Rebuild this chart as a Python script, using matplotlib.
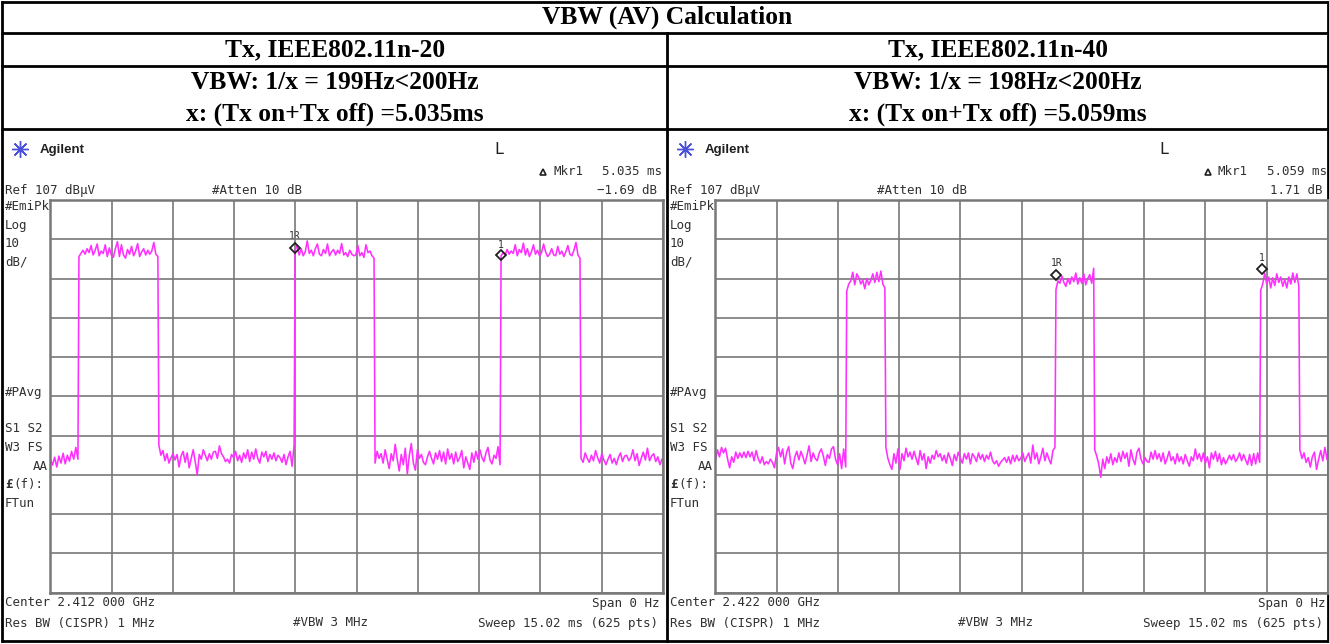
#------------------------------------------------------------------------
# VBW (AV) CALCULATION - TWO SPECTRUM ANALYZER SCREENS IN A TABLE
#------------------------------------------------------------------------
import numpy as np
import matplotlib
matplotlib.use('Agg')
import matplotlib.pyplot as plt

#------------------------------------------------------------------------
# TEXTS
title = 'VBW (AV) Calculation'
modes = ['Tx, IEEE802.11n-20', 'Tx, IEEE802.11n-40']
vbw_lines = ['VBW: 1/x = 199Hz<200Hz', 'VBW: 1/x = 198Hz<200Hz']
x_lines = ['x: (Tx on+Tx off) =5.035ms', 'x: (Tx on+Tx off) =5.059ms']
mkr_time = ['5.035 ms', '5.059 ms']
mkr_delta = ['\u22121.69 dB', '1.71 dB']
center_freq = ['Center 2.412 000 GHz', 'Center 2.422 000 GHz']

#------------------------------------------------------------------------
# TRACES: dBuV, one list per burst on / burst off stretch of the sweep
left_edges = [0., 0.70, 2.66, 6.00, 7.96, 11.05, 13.01, 15.02]
left_trace = [
 [41.0,39.5,41.5,39.0,41.8,40.0,42.5,39.8,42.0,40.5,43.0,41.0,44.0,41.0],
 [92.6,93.4,94.2,93.2,94.6,93.6,95.4,93.0,94.2,95.8,92.8,94.0,93.4,95.6,92.6,94.8,93.0,92.4,94.6,96.4,
  92.6,95.6,93.0,92.2,94.4,93.2,95.2,92.8,94.0,95.9,92.6,93.8,94.6,93.0,94.2,93.2,94.0,96.2,93.2,92.6],
 [44.5,42.0,43.2,40.6,42.4,40.0,41.4,42.4,40.8,42.2,39.0,41.8,43.0,40.2,42.6,38.8,41.2,43.4,40.4,37.0,
  42.2,41.0,43.4,42.0,40.6,42.4,41.0,42.8,43.0,41.2,44.4,42.4,41.6,40.4,41.0,40.0,42.2,41.4,43.0,40.6,
  42.0,40.2,42.6,41.2,43.4,40.4,42.8,41.0,43.6,41.2,40.0,42.8,41.6,43.0,40.4,42.2,41.0,42.6,40.6,42.0,
  41.4,40.2,42.2,39.6,41.6,43.0,39.2,44.6],
 [94.2,95.4,93.0,94.6,92.8,93.8,96.6,93.4,94.2,92.8,94.6,95.8,93.2,92.8,94.4,93.4,95.8,92.8,93.8,94.4,
  93.0,94.2,93.4,95.9,93.0,93.6,92.6,94.2,93.2,92.8,93.0,95.4,92.8,93.6,92.4,95.6,93.6,94.0,92.8,92.2],
 [40.0,43.0,41.2,42.4,40.0,43.4,41.0,38.6,42.4,40.6,44.8,41.0,38.0,42.2,39.6,43.8,37.2,42.0,45.0,40.0,
  38.2,43.4,41.2,42.2,40.2,39.6,41.6,43.0,41.2,39.8,42.6,41.0,43.2,40.4,42.8,39.8,43.6,41.0,42.4,39.8,
  42.8,40.4,41.4,43.2,38.8,41.6,40.0,38.4,42.6,40.2,43.0,41.0,43.4,41.4,40.4,42.6,44.0,40.8,39.8,42.0,
  41.2,44.2,39.6],
 [92.8,93.6,93.0,94.4,93.2,94.0,93.4,95.6,92.8,94.4,93.6,96.0,93.0,94.6,92.6,93.8,95.6,93.2,94.2,92.8,
  93.6,95.8,93.8,92.6,93.2,94.6,93.0,92.8,95.2,93.2,94.0,92.6,93.8,95.4,93.2,92.8,94.2,96.2,93.0,92.2],
 [41.2,40.2,42.6,41.2,40.2,42.0,40.6,43.2,41.4,40.0,42.4,40.8,39.6,41.0,42.2,40.0,41.2,39.6,41.4,42.6,
  40.4,41.8,42.0,40.6,41.4,43.4,40.6,42.4,39.4,41.2,42.8,40.8,43.8,40.6,41.8,42.4,40.4,41.6,39.6,41.0],
]
right_edges = [0., 3.22, 4.18, 8.35, 9.30, 13.37, 14.33, 15.02]
right_trace = [
 [40.6,43.4,41.6,44.0,42.6,43.8,41.0,38.8,41.6,40.2,42.8,41.2,42.6,41.4,42.8,41.4,43.0,41.6,42.8,40.6,
  43.2,41.2,40.0,41.6,39.6,40.4,39.8,41.0,40.2,38.8,42.4,44.0,41.6,43.6,39.8,42.8,44.2,40.0,38.6,41.6,
  43.0,40.8,43.0,41.6,39.8,42.0,44.4,40.4,42.6,41.2,40.6,42.6,43.6,41.8,39.4,42.2,41.2,43.6,44.2,41.0,
  39.6,42.4,38.6,43.6,39.0],
 [83.8,85.6,86.4,88.6,85.4,88.2,87.2,85.6,86.6,84.4,87.0,85.4,86.6,88.2,86.0,88.6,86.2,88.9,85.6,84.6],
 [44.0,41.2,39.6,38.4,42.4,40.0,43.6,38.4,42.4,40.6,43.8,41.6,42.8,41.0,43.0,41.2,39.6,43.2,40.8,42.4,
  38.6,41.6,40.0,42.0,41.0,43.2,41.6,42.4,40.6,42.0,40.0,42.6,41.2,39.4,42.2,40.6,42.8,41.2,40.0,42.4,
  41.0,42.6,39.8,42.4,41.6,40.4,42.6,41.0,42.2,40.4,42.0,41.0,42.8,40.6,39.8,40.6,39.2,40.2,40.8,41.4,
  40.2,41.6,39.8,42.0,40.4,42.0,40.6,41.2,42.6,40.4,41.6,42.6,40.0,44.6,41.0,42.6,39.8,41.6,43.8,40.6,
  42.6,41.0,39.8,43.2,44.0],
 [84.2,86.4,85.8,87.6,86.0,85.0,87.0,85.6,87.4,86.2,88.4,85.6,87.2,85.8,88.2,85.4,87.0,88.0,85.8,89.6],
 [43.4,41.8,39.8,36.4,41.0,38.6,41.6,40.0,42.4,39.6,41.4,40.2,42.6,40.4,43.0,41.2,42.6,39.2,43.4,41.0,
  39.6,42.8,43.8,41.0,39.8,41.4,40.4,40.2,42.8,41.0,43.2,41.0,42.4,40.4,42.6,39.8,41.2,43.0,40.6,41.6,
  39.8,42.4,40.4,41.6,39.8,42.2,40.6,39.2,41.6,40.6,43.6,41.0,42.4,40.4,42.6,40.0,41.6,38.8,42.6,41.0,
  43.0,40.4,42.4,39.6,41.4,39.8,40.8,42.0,40.8,42.2,40.4,41.2,42.6,40.6,42.2,40.8,39.6,42.2,39.4,42.4,
  39.8,42.6,40.2],
 [84.0,85.6,88.4,85.6,87.4,84.6,87.2,85.2,88.2,86.0,87.4,85.0,86.8,84.6,87.4,85.6,88.4,86.0,88.2,85.0],
 [43.4,41.2,42.6,40.2,41.4,39.0,41.6,42.8,38.4,41.0,43.2,40.6,44.0,41.0],
]
# position (ms) and level (dBuV) of the markers
left_marks = {'t': [6.00, 11.04], 'db': [94.8, 93.0]}
right_marks = {'t': [8.36, 13.40], 'db': [87.9, 89.5]}

#------------------------------------------------------------------------
# FIGURE AND PIXEL OVERLAY
W, H = 1329, 644
fig = plt.figure(figsize=(W / 100., H / 100.), dpi=100)
bg = fig.add_axes([0, 0, 1, 1])
bg.set_xlim(0, W)
bg.set_ylim(H, 0)
bg.axis('off')

#------------------------------------------------------------------------
# TABLE
for y in [2, 33, 66, 129, 641]:
  bg.plot([1, 1328], [y, y], color='black', lw=2, solid_capstyle='butt')
bg.plot([2, 2], [2, 641], color='black', lw=2)
bg.plot([1328, 1328], [2, 641], color='black', lw=2)
bg.plot([667, 667], [33, 641], color='black', lw=2)

serif = dict(family='Liberation Serif', weight='bold', size=18.4, ha='center', va='center', color='black')
bg.text(667, 17, title, **serif)
centers = [335, 998]
for i in range(2):
  bg.text(centers[i], 50, modes[i], **serif)
  bg.text(centers[i], 82, vbw_lines[i], **serif)
  bg.text(centers[i], 114, x_lines[i], **serif)

#------------------------------------------------------------------------
# ANALYZER SCREEN
mono = dict(family='DejaVu Sans Mono', size=9, color='#303030', va='center')

def screen(dx, i, edges, trace, marks, labels):
  # Cadre et quadrillage
  ax = fig.add_axes([(50.4 + dx) / W, 1 - 592.7 / H, 612.6 / W, 392.7 / H])
  ax.set_xlim(0, 15.02)
  ax.set_ylim(7, 107)
  ax.set_xticks(np.linspace(0, 15.02, 11))
  ax.set_yticks(np.arange(7, 108, 10))
  ax.tick_params(length=0, labelbottom=False, labelleft=False)
  ax.grid(color='#787878', lw=1.2)
  ax.set_axisbelow(True)
  for s in ax.spines.values():
    s.set_color('#787878')
    s.set_linewidth(1.8)
  # Trace
  t, v = [], []
  for k, seg in enumerate(trace):
    t.extend(np.linspace(edges[k], edges[k + 1] - 0.025, len(seg)))
    v.extend(seg)
  ax.plot(t, v, color='#ff30ff', lw=1.15)
  # Marqueurs
  ax.plot(marks['t'], marks['db'], ls='none', marker='D', ms=5.2, mfc='none', mec='#202020', mew=1.3)
  ax.patch.set_alpha(0)
  for name, tx, ty in labels:
    bg.text(tx + dx, ty, name, family='DejaVu Sans Mono', size=7, color='#303030', ha='center', va='center',
            bbox=dict(fc='white', ec='none', pad=0.5), zorder=5)
  # Textes de l'appareil
  bg.plot([20 + dx], [149], marker=(8, 2, 0), ms=12, color='#4a50d8', mew=1, ls='none')
  bg.plot([20 + dx], [149], marker='o', ms=3, color='#4a50d8', ls='none')
  bg.text(40 + dx, 150, 'Agilent', family='Liberation Sans', weight='bold', size=9.5, color='#202020', va='center')
  bg.text(499 + dx, 149, 'L', family='DejaVu Sans Mono', size=11.5, color='#202020', ha='center', va='center')
  bg.plot([543 + dx], [172], marker='^', ms=4.5, mfc='white', mec='#202020', mew=1.2, ls='none')
  bg.text(553 + dx, 171, 'Mkr1', **mono)
  bg.text(662 + dx, 171, mkr_time[i], ha='right', **mono)
  bg.text(5 + dx, 190, 'Ref 107 dB\u00b5V', **mono)
  bg.text(212 + dx, 190, '#Atten 10 dB', **mono)
  bg.text(657 + dx, 190, mkr_delta[i], ha='right', **mono)
  for txt, y in [('#EmiPk', 206), ('Log', 225), ('10', 243), ('dB/', 262), ('#PAvg', 392),
                 ('S1 S2', 428), ('W3 FS', 447), ('FTun', 503)]:
    bg.text(5 + dx, y, txt, **mono)
  bg.text(48 + dx, 466, 'AA', ha='right', **mono)
  bg.text(5 + dx, 484, '\u00a3', weight='bold', **mono)
  bg.text(13 + dx, 484, '(f):', **mono)
  bg.text(5 + dx, 603, center_freq[i], **mono)
  bg.text(660 + dx, 603, 'Span 0 Hz', ha='right', **mono)
  bg.text(5 + dx, 623, 'Res BW (CISPR) 1 MHz', **mono)
  bg.text(293 + dx, 623, '#VBW 3 MHz', **mono)
  bg.text(658 + dx, 623, 'Sweep 15.02 ms (625 pts)', ha='right', **mono)
  return ax

screen(0, 0, left_edges, left_trace, left_marks, [('1R', 295, 236), ('1', 501, 245)])
screen(665, 1, right_edges, right_trace, right_marks, [('1R', 392, 263), ('1', 597, 258)])

#------------------------------------------------------------------------
# SAUVEGARDE
fig.savefig('out.png', dpi=100)
